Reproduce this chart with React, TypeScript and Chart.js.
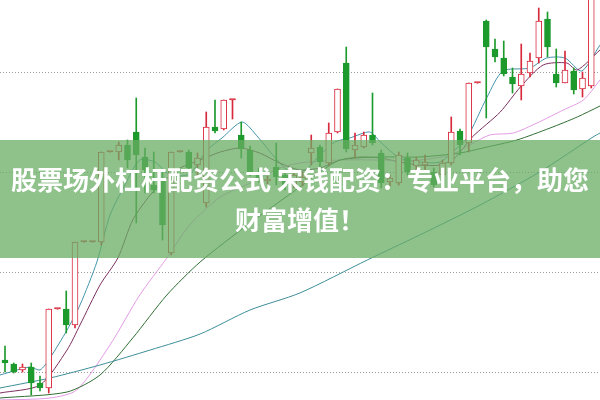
import React, { useEffect, useRef } from "react";
import { Chart, registerables } from "chart.js";

Chart.register(...registerables);

// ---- Candles (one per trading day, index 0..67) ----
const opens = [
  5.6, 5.4, 5.1, 5.25, 4.45, 4.2, 8.15, 8.15, 7.35, 11.5,
  11.5, 11.5, 16.0, 16.0, 16.35, 17.0, 15.75, 14.35, 14.6, 10.95,
  16.0, 16.0, 15.35, 13.45, 17.25, 17.15, 18.6, 16.85, 16.1, 15.0,
  14.55, 15.25, 14.85, 14.35, 14.5, 15.95, 16.25, 15.45, 17.0, 20.45,
  16.1, 16.25, 16.85, 15.95, 14.5, 14.45, 15.7, 15.3, 15.35, 15.0,
  14.85, 15.45, 17.05, 16.45, 19.45, 22.55, 21.15, 20.7, 19.75, 19.3,
  19.95, 20.7, 22.65, 19.9, 19.45, 20.05, 19.15, 19.3,
];
const closes = [
  5.45, 5.0, 5.25, 4.45, 4.2, 8.15, 8.15, 7.35, 11.5, 11.5,
  11.5, 16.0, 16.0, 16.35, 15.6, 15.85, 15.1, 14.1, 12.35, 16.0,
  16.0, 15.2, 15.7, 17.25, 17.05, 18.6, 18.6, 16.15, 15.0, 14.7,
  14.65, 14.75, 14.35, 14.85, 14.75, 16.2, 15.5, 16.95, 19.15, 16.15,
  16.35, 16.85, 16.45, 14.45, 14.7, 15.85, 15.0, 15.6, 15.5, 14.35,
  15.45, 17.0, 16.35, 19.45, 19.45, 21.25, 20.75, 19.9, 19.4, 19.9,
  20.55, 22.55, 21.25, 19.45, 20.1, 19.1, 19.7, 23.85,
];
const highs = [
  6.3, 5.45, 5.4, 5.45, 4.8, 8.15, 8.15, 9.05, 11.5, 11.5,
  11.5, 16.0, 16.0, 16.5, 16.6, 18.7, 16.2, 16.0, 15.1, 16.0,
  16.0, 16.1, 15.95, 18.0, 18.6, 18.6, 18.6, 17.5, 16.3, 15.2,
  14.8, 16.45, 15.1, 15.0, 15.0, 16.85, 16.35, 17.45, 19.15, 21.25,
  16.95, 17.0, 18.95, 16.1, 14.85, 16.0, 15.95, 15.75, 15.85, 15.2,
  15.6, 17.75, 17.15, 19.45, 19.45, 22.6, 21.65, 21.55, 20.2, 21.4,
  20.95, 23.2, 23.0, 21.15, 21.05, 20.2, 20.0, 23.85,
];
const lows = [
  5.0, 4.95, 5.0, 3.85, 4.05, 3.95, 8.15, 6.95, 7.2, 11.5,
  11.5, 11.35, 16.0, 15.6, 15.2, 12.45, 13.95, 13.95, 11.6, 10.85,
  16.0, 15.1, 14.75, 13.25, 16.95, 17.1, 17.65, 15.7, 14.8, 14.5,
  14.4, 14.35, 14.1, 14.2, 14.3, 15.35, 15.2, 15.3, 16.95, 16.0,
  15.7, 16.2, 16.35, 14.2, 14.3, 14.35, 14.85, 15.1, 15.0, 14.25,
  14.7, 15.35, 15.85, 16.0, 19.45, 17.7, 20.5, 19.8, 18.95, 18.6,
  19.75, 20.45, 20.75, 19.25, 19.45, 18.9, 18.75, 19.2,
];

// ---- Moving average lines, read at [day index, price] ----
const ma5 = [
  [-0.57, 4.85], [2.86, 5.25], [4.0, 5.1], [5.14, 5.7], [7.09, 7.1], [8.57, 8.35],
  [10.5, 10.5], [12.0, 12.85], [13.7, 14.35], [15.4, 15.6], [17.1, 15.5], [18.9, 14.85],
  [21.1, 14.9], [23.1, 16.1], [24.8, 16.7], [27.1, 17.5], [28.9, 16.75], [30.9, 15.7],
  [32.6, 15.0], [34.3, 15.1], [36.0, 15.85], [37.7, 16.5], [39.4, 16.7], [41.7, 17.0],
  [42.9, 16.5], [45.1, 15.7], [47.4, 15.5], [49.7, 15.5], [51.4, 16.1], [52.8, 16.7],
  [55.1, 18.75], [56.9, 20.05], [60.0, 20.2], [61.9, 20.7], [64.0, 20.7], [65.9, 20.05],
  [68.0, 21.35],
];
const ma10 = [
  [-0.57, 3.95], [4.0, 4.35], [7.09, 6.1], [8.57, 7.35], [10.86, 9.35], [12.9, 10.7],
  [14.6, 12.6], [16.6, 13.85], [18.3, 14.6], [20.0, 15.2], [22.3, 15.6], [24.6, 16.0],
  [26.9, 16.2], [29.1, 15.95], [31.4, 15.45], [33.7, 15.1], [36.0, 15.2], [38.3, 15.6],
  [40.6, 15.75], [42.9, 15.7], [45.1, 15.5], [47.4, 15.35], [49.7, 15.35], [51.4, 15.7],
  [53.4, 16.75], [56.6, 18.0], [58.9, 19.25], [61.5, 20.35], [64.2, 20.45], [65.4, 20.1],
  [68.0, 21.1],
];
const ma20 = [
  [-0.57, 3.6], [5.14, 3.7], [8.2, 4.1], [12.0, 6.35], [15.4, 8.85], [18.5, 10.7],
  [21.1, 12.35], [24.6, 13.75], [28.3, 14.5], [31.4, 15.2], [33.7, 15.45], [38.3, 15.6],
  [42.9, 15.6], [47.4, 15.6], [50.9, 15.85], [53.1, 16.35], [55.4, 16.85], [58.1, 16.95],
  [60.8, 17.45], [63.8, 18.1], [66.1, 18.6], [68.0, 19.6],
];
const ma30 = [
  [-0.57, 3.7], [7.09, 4.0], [10.86, 4.85], [14.6, 6.7], [18.5, 8.85], [22.3, 10.5],
  [28.0, 12.45], [33.7, 14.25], [36.0, 15.0], [38.3, 15.6], [42.9, 15.75], [47.4, 15.75],
  [52.0, 15.95], [54.6, 16.2], [58.5, 16.6], [62.3, 17.2], [65.4, 17.75], [68.0, 18.3],
];
const ma60 = [
  [-0.57, 4.2], [5.14, 4.7], [10.86, 5.35], [16.6, 6.1], [22.3, 6.9], [28.0, 8.1],
  [33.7, 8.95], [41.4, 10.6], [47.4, 11.85], [54.3, 13.35], [61.1, 15.0], [67.2, 16.75],
  [68.0, 16.95],
];

const gridValues = [5, 10, 15, 20];
const bannerLine1 = "股票场外杠杆配资公式 宋钱配资：专业平台，助您";
const bannerLine2 = "财富增值！";

const UP = "#d8283c";
const DOWN = "#1c9a2c";

export default function App() {
  const ref = useRef<HTMLCanvasElement>(null);

  useEffect(() => {
    document.body.style.margin = "0";
    const colors = opens.map((o, i) => (closes[i] < o ? DOWN : UP));
    const fills = opens.map((o, i) =>
      closes[i] < o ? DOWN : closes[i] === o ? UP : "#ffffff"
    );
    const bodies = opens.map((o, i) => ({ x: i, y: [o, closes[i]] }));
    const upperWicks = opens.map((o, i) => ({ x: i, y: [Math.max(o, closes[i]), highs[i]] }));
    const lowerWicks = opens.map((o, i) => ({ x: i, y: [lows[i], Math.min(o, closes[i])] }));
    const toPts = (arr: number[][]) => arr.map(([x, y]) => ({ x, y }));

    const line = (data: number[][], color: string) => ({
      type: "line" as const,
      data: toPts(data),
      borderColor: color,
      borderWidth: 1,
      pointRadius: 0,
      tension: 0.25,
      fill: false,
      order: 3,
    });

    const gridPlugin = {
      id: "dottedGrid",
      beforeDatasetsDraw(chart: any) {
        const { ctx, chartArea, scales } = chart;
        ctx.save();
        ctx.strokeStyle = "#9a9a9a";
        ctx.lineWidth = 1;
        ctx.setLineDash([1, 2]);
        gridValues.forEach((v) => {
          const y = Math.round(scales.y.getPixelForValue(v)) + 0.5;
          ctx.beginPath();
          ctx.moveTo(chartArea.left, y);
          ctx.lineTo(chartArea.right, y);
          ctx.stroke();
        });
        ctx.restore();
      },
    };

    const chart = new Chart(ref.current!, {
      type: "bar",
      data: {
        datasets: [
          line(ma60, "#3c8e98"),
          line(ma30, "#2f6e33"),
          line(ma20, "#e39be4"),
          line(ma10, "#7b2f5e"),
          line(ma5, "#4494aa"),
          {
            type: "bar",
            data: upperWicks as any,
            backgroundColor: colors,
            borderWidth: 0,
            barThickness: 1,
            grouped: false,
            order: 2,
          },
          {
            type: "bar",
            data: lowerWicks as any,
            backgroundColor: colors,
            borderWidth: 0,
            barThickness: 1,
            grouped: false,
            order: 2,
          },
          {
            type: "bar",
            data: bodies as any,
            backgroundColor: fills,
            borderColor: colors,
            borderWidth: 1,
            borderSkipped: false,
            barThickness: 6,
            minBarLength: 1.5,
            grouped: false,
            order: 1,
          },
        ] as any,
      },
      options: {
        animation: false,
        responsive: false,
        devicePixelRatio: 1,
        layout: { padding: 0 },
        plugins: { legend: { display: false }, tooltip: { enabled: false } },
        scales: {
          x: { type: "linear", min: -0.571, max: 68, offset: false, display: false },
          y: { type: "linear", min: 3.6, max: 23.6, display: false },
        },
      },
      plugins: [gridPlugin],
    } as any);
    return () => chart.destroy();
  }, []);

  const textStyle: React.CSSProperties = {
    position: "absolute",
    left: 0,
    width: 600,
    textAlign: "center",
    whiteSpace: "nowrap",
    color: "#ffffff",
    fontFamily: "'Noto Sans CJK SC', 'Noto Sans', sans-serif",
    fontWeight: 700,
    fontSize: 26,
    lineHeight: "26px",
  };

  return (
    <div style={{ position: "relative", width: 600, height: 400, background: "#ffffff", overflow: "hidden" }}>
      <canvas ref={ref} width={600} height={400} style={{ display: "block", width: 600, height: 400 }} />
      <div
        style={{
          position: "absolute",
          left: 0,
          top: 140,
          width: 600,
          height: 118,
          background: "rgba(105,172,100,0.75)",
        }}
      />
      <div style={{ ...textStyle, top: 166 }}>{bannerLine1}</div>
      <div style={{ ...textStyle, top: 206 }}>{bannerLine2}</div>
    </div>
  );
}
